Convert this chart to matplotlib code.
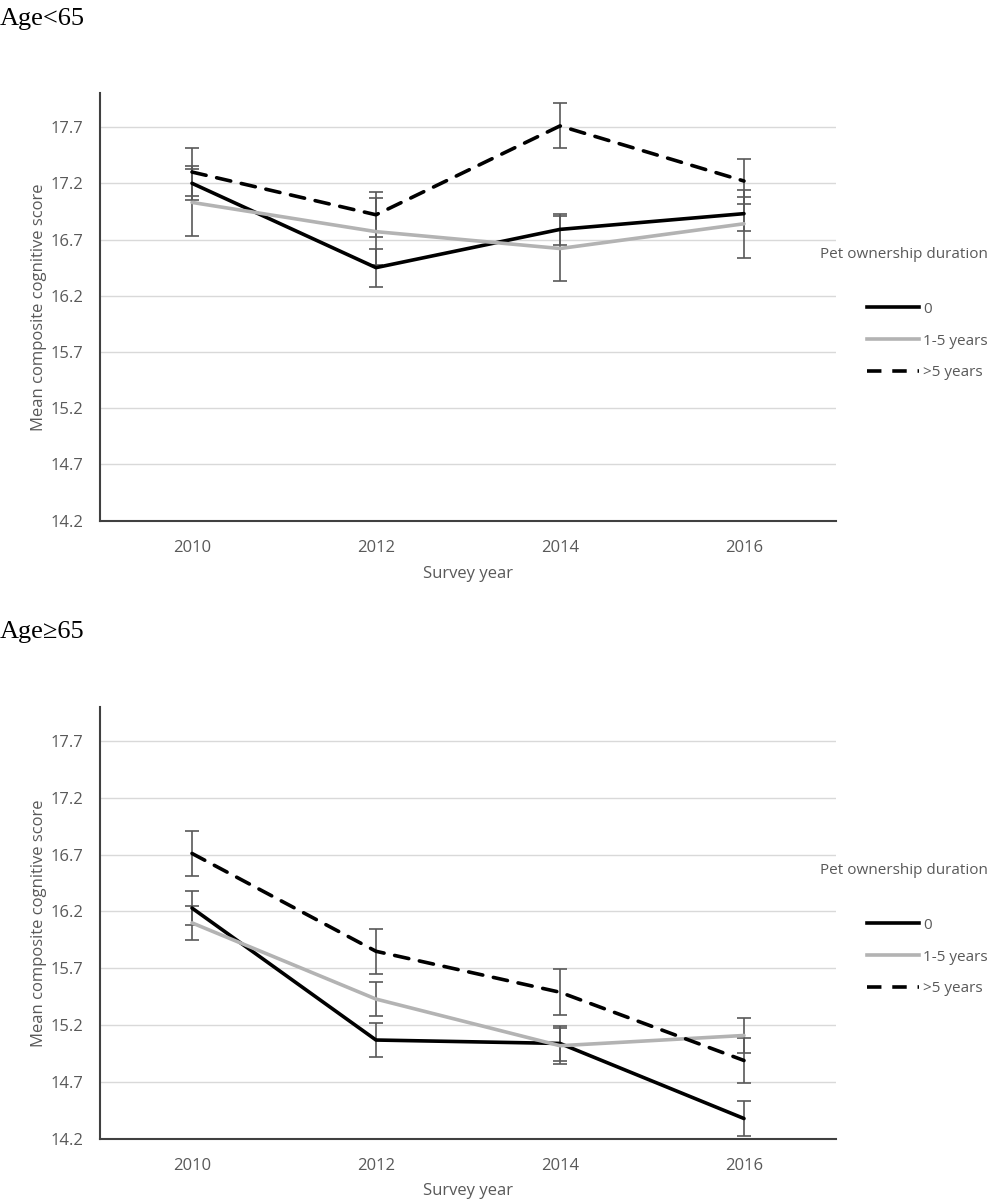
import matplotlib
matplotlib.use("Agg")
import matplotlib.pyplot as plt
from matplotlib.lines import Line2D

# survey waves (categorical axis)
years = ["2010", "2012", "2014", "2016"]
groups = ["0", "1-5 years", ">5 years"]

# Age<65: mean composite cognitive score and error-bar half width
young_mean = {
    "0":         [17.20, 16.45, 16.79, 16.93],
    "1-5 years": [17.03, 16.77, 16.62, 16.84],
    ">5 years":  [17.30, 16.92, 17.71, 17.22],
}
young_err = {
    "0":         [0.15, 0.17, 0.14, 0.15],
    "1-5 years": [0.30, 0.30, 0.29, 0.30],
    ">5 years":  [0.21, 0.20, 0.20, 0.20],
}

# Age>=65
old_mean = {
    "0":         [16.23, 15.07, 15.04, 14.38],
    "1-5 years": [16.10, 15.43, 15.02, 15.11],
    ">5 years":  [16.71, 15.85, 15.49, 14.89],
}
old_err = {
    "0":         [0.15, 0.15, 0.15, 0.15],
    "1-5 years": [0.15, 0.15, 0.16, 0.15],
    ">5 years":  [0.20, 0.20, 0.20, 0.20],
}

yticks = [14.2, 14.7, 15.2, 15.7, 16.2, 16.7, 17.2, 17.7]

SANS = "Open Sans"
TXT = "#595959"
styles = {
    "0":         dict(color="black", lw=2.6, ls="-"),
    "1-5 years": dict(color="#b3b3b3", lw=2.6, ls="-"),
    ">5 years":  dict(color="black", lw=2.6, ls=(0, (4, 3))),
}

W, H = 993, 1200
fig = plt.figure(figsize=(W / 100, H / 100), dpi=100)


def draw_panel(ax, means, errs):
    x = list(range(len(years)))
    for g in groups:
        ax.errorbar(x, means[g], yerr=errs[g], fmt="none", ecolor="#595959",
                    elinewidth=1.2, capsize=5, capthick=1.2, zorder=2)
    for g in groups:
        ax.plot(x, means[g], zorder=3, solid_capstyle="round",
                dash_capstyle="round", **styles[g])
    ax.set_xlim(-0.5, 3.5)
    ax.set_ylim(14.2, 18.0)
    ax.set_xticks(x)
    ax.set_xticklabels(years)
    ax.set_yticks(yticks)
    ax.set_yticklabels([f"{v:.1f}" for v in yticks])
    ax.tick_params(length=0, labelsize=12, labelcolor=TXT)
    ax.tick_params(axis="x", pad=14)
    ax.tick_params(axis="y", pad=12)
    for lab in ax.get_xticklabels() + ax.get_yticklabels():
        lab.set_family(SANS)
    ax.grid(axis="y", color="#d9d9d9", lw=1, zorder=0)
    ax.set_axisbelow(True)
    for s in ["top", "right"]:
        ax.spines[s].set_visible(False)
    for s in ["left", "bottom"]:
        ax.spines[s].set_color("#404040")
        ax.spines[s].set_linewidth(1.5)
    ax.set_xlabel("Survey year", family=SANS, fontsize=12, color=TXT)
    ax.set_ylabel("Mean composite cognitive score", family=SANS, fontsize=12,
                  color=TXT)


def draw_legend(y_title):
    # legend sits to the right of the plot area, title above the entries
    fig.text(820 / W, 1 - y_title / H, "Pet ownership duration", family=SANS,
             fontsize=11, color=TXT, va="center", ha="left")
    handles = [Line2D([], [], **styles[g]) for g in groups]
    fig.legend(handles, groups, loc="upper left",
               bbox_to_anchor=(853 / W, 1 - (y_title + 33) / H),
               frameon=False, handlelength=3.4, handletextpad=0.3,
               labelspacing=1.1, prop={"family": SANS, "size": 11},
               labelcolor=TXT)


ax1 = fig.add_axes([100 / W, 1 - 520.7 / H, 736 / W, 427.4 / H])
draw_panel(ax1, young_mean, young_err)
ax1.xaxis.set_label_coords(0.5, -0.106)
ax1.yaxis.set_label_coords(-0.072, 0.5)
fig.text(0, 1 - 19 / H, "Age<65", family="Liberation Serif", fontsize=19,
         va="center", ha="left")
draw_legend(255)

ax2 = fig.add_axes([100 / W, 1 - 1139 / H, 736 / W, 432.3 / H])
draw_panel(ax2, old_mean, old_err)
ax2.xaxis.set_label_coords(0.5, -0.102)
ax2.yaxis.set_label_coords(-0.072, 0.5)
fig.text(0, 1 - 632 / H, "Age\u226565", family="Liberation Serif", fontsize=19,
         va="center", ha="left")
draw_legend(871)

fig.savefig("out.png", dpi=100)
